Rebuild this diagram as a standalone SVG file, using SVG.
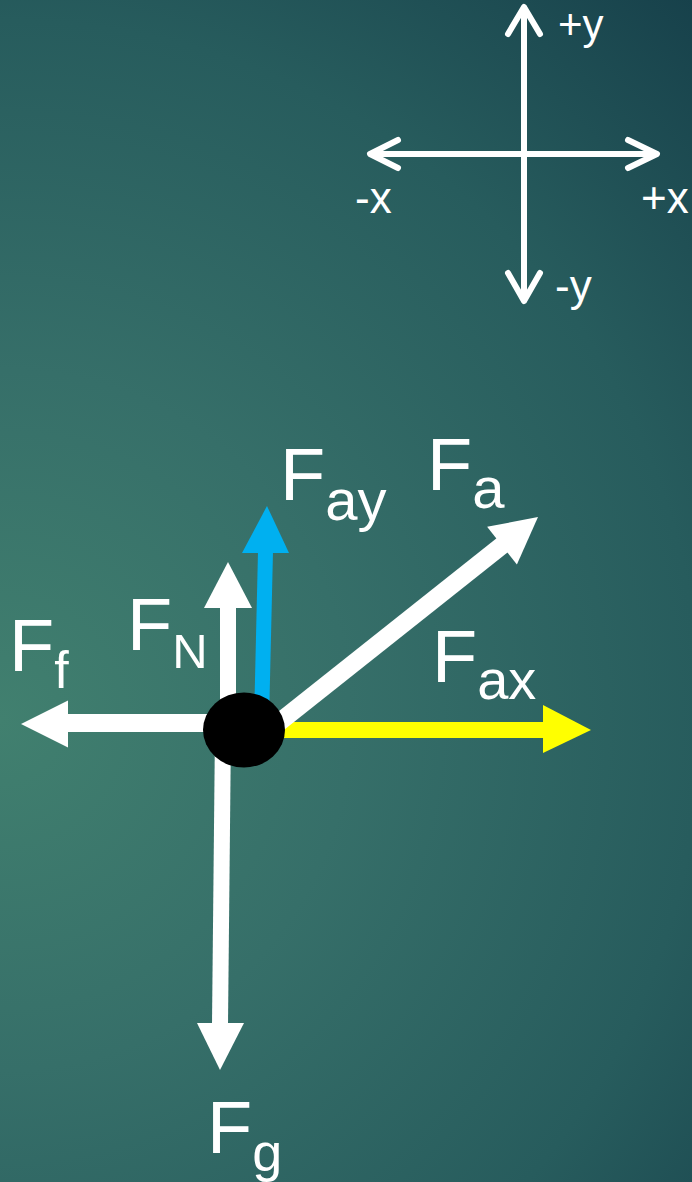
<svg xmlns="http://www.w3.org/2000/svg" width="692" height="1182" viewBox="0 0 692 1182">
  <defs>
    <radialGradient id="bg" gradientUnits="userSpaceOnUse" cx="0" cy="720" r="1000">
      <stop offset="0" stop-color="#41806F"/>
      <stop offset="0.35" stop-color="#366F69"/>
      <stop offset="0.7" stop-color="#275C5D"/>
      <stop offset="1" stop-color="#17414B"/>
    </radialGradient>
  </defs>
  <style>
    .lbl { font-family: "Liberation Sans", Arial, sans-serif; fill: #FFFFFF; }
    .axis { fill: none; stroke: #FFFFFF; stroke-width: 6; stroke-linecap: round; stroke-linejoin: round; }
    .w { fill: #FFFFFF; }
    .b { fill: #00B0F0; }
    .yl { fill: #FFFF00; }
  </style>
  <rect x="0" y="0" width="692" height="1182" fill="url(#bg)"/>

  <g id="axes">
    <path class="axis" d="M524 8 V300 M371 154 H656"/>
    <path class="axis" d="M508 34 L524 7 L540 34"/>
    <path class="axis" d="M508 273 L524 301 L540 273"/>
    <path class="axis" d="M398 140 L370 154 L398 168"/>
    <path class="axis" d="M628 140 L657 154 L628 168"/>
    <text class="lbl" x="558" y="39" font-size="42">+y</text>
    <text class="lbl" x="555" y="301" font-size="44">-y</text>
    <text class="lbl" x="355" y="213" font-size="44">-x</text>
    <text class="lbl" x="641" y="213" font-size="44">+x</text>
  </g>

  <g id="connectors">
    <g id="arrow-Ff">
      <rect class="w" x="66" y="714" width="160" height="18"/>
      <polygon class="w" points="21,724 68,700.5 68,747.5"/>
    </g>
    <g id="arrow-FN">
      <rect class="w" x="220" y="604" width="16" height="126"/>
      <polygon class="w" points="228,562 204,608 252,608"/>
    </g>
    <g id="arrow-Fg">
      <polygon class="w" points="215,728 231,728 228,1025 212,1025"/>
      <polygon class="w" points="197,1023 244,1023 220,1070"/>
    </g>
    <g id="arrow-Fay">
      <polygon class="b" points="254,722 269,722 273,551 258,551"/>
      <polygon class="b" points="242,553 289,553 267,506"/>
    </g>
    <g id="arrow-Fax">
      <rect class="yl" x="270" y="722" width="276" height="16"/>
      <polygon class="yl" points="543,705 543,753 591,730"/>
    </g>
    <g id="arrow-Fa">
      <line x1="272" y1="728" x2="505" y2="543" stroke="#FFFFFF" stroke-width="18"/>
      <polygon class="w" points="538,517 516.9,564.4 487.1,526.8"/>
    </g>
  </g>

  <g id="object">
    <ellipse cx="244" cy="730" rx="41" ry="37.5" fill="#000000"/>
  </g>

  <g id="label-Ff">
    <text class="lbl" x="9" y="671" font-size="74">F<tspan dy="17" font-size="52">f</tspan></text>
  </g>
  <g id="label-FN">
    <text class="lbl" x="127" y="650" font-size="74">F<tspan dy="18" font-size="49">N</tspan></text>
  </g>
  <g id="label-Fay">
    <text class="lbl" x="280" y="500" font-size="74">F<tspan dy="20" font-size="58">ay</tspan></text>
  </g>
  <g id="label-Fa">
    <text class="lbl" x="427" y="490" font-size="74">F<tspan dy="18" font-size="58">a</tspan></text>
  </g>
  <g id="label-Fax">
    <text class="lbl" x="432" y="682" font-size="74">F<tspan dy="17" font-size="56">ax</tspan></text>
  </g>
  <g id="label-Fg">
    <text class="lbl" x="207" y="1153" font-size="74">F<tspan dy="18" font-size="54">g</tspan></text>
  </g>
</svg>
